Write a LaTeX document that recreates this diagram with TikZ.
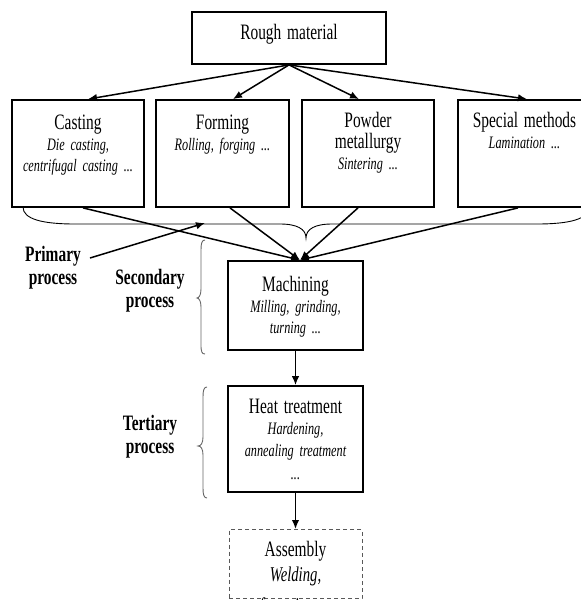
\documentclass[tikz,border=0pt]{standalone}
\usepackage{fontspec}
\setmainfont{Liberation Serif}[FakeStretch=0.7]
\usetikzlibrary{arrows.meta}
\newcommand{\ttl}{\fontsize{22}{21}\selectfont\upshape}
\begin{document}
\begin{tikzpicture}[x=1pt,y=-1pt,
  box/.style={draw, line width=1.8pt, inner sep=0pt},
  dbox/.style={draw=black!65, dashed, dash pattern=on 4pt off 3pt, line width=1pt, inner sep=0pt},
  txt/.style={text width=160pt, align=center, inner sep=0pt, anchor=base,
              font=\fontsize{17.5}{21}\selectfont\itshape},
  lbl/.style={text width=120pt, align=center, inner sep=0pt, anchor=base,
              font=\fontsize{22}{23.5}\selectfont\bfseries},
  arr/.style={-{Latex[length=9pt,width=7.5pt]}, line width=1.5pt},
  brc/.style={draw=black!60, line width=0.9pt}
]
\useasboundingbox (0,0) rectangle (581,600);
\clip (0,0) rectangle (581,600);

% boxes
\node[box, minimum width=194pt, minimum height=52pt] (rough) at (289,38) {};
\node[box, minimum width=132pt, minimum height=107pt] (cast) at (78,153.5) {};
\node[box, minimum width=133pt, minimum height=107pt] (form) at (222.5,153.5) {};
\node[box, minimum width=132pt, minimum height=107pt] (powd) at (368,153.5) {};
\node[box, minimum width=133pt, minimum height=107pt] (spec) at (524.5,153.5) {};
\node[box, minimum width=135pt, minimum height=89pt] (mach) at (295.5,305.5) {};
\node[box, minimum width=135pt, minimum height=106pt] (heat) at (295.5,439) {};
\node[dbox, minimum width=133pt, minimum height=69pt] (asm) at (295.5,564) {};

% box texts
\node[txt] (troughs) at (289,39) {\ttl Rough material};
\node[txt] (tcast) at (78,129) {{\ttl Casting}\\Die casting,\\centrifugal casting ...};
\node[txt] (tform) at (222.5,129) {{\ttl Forming}\\Rolling, forging ...};
\node[txt] (tpowd) at (368,127) {{\ttl Powder}\\{\ttl metallurgy}\\Sintering ...};
\node[txt] (tspec) at (524.5,127) {{\ttl Special methods}\\Lamination ...};
\node[txt] (tmach) at (295.5,291) {{\ttl Machining}\\Milling, grinding,\\turning ...};
\node[txt, font=\fontsize{17.5}{21.5}\selectfont\itshape] (theat) at (295.5,413)
  {{\ttl Heat treatment}\\Hardening,\\annealing treatment\\[1.5pt]...};
\node[txt, font=\fontsize{21}{25}\selectfont\itshape] (tasm) at (295.5,556)
  {{\ttl Assembly}\\Welding,\\[6pt]fastening ...};

% process labels
\node[lbl] (prim) at (53,261) {Primary\\process};
\node[lbl] (seco) at (150,284) {Secondary\\process};
\node[lbl] (tert) at (150,430) {Tertiary\\process};

% arrows from the rough material
\draw[arr] (rough.south) -- ([xshift=10pt]cast.north);
\draw[arr] (rough.south) -- ([xshift=10.5pt]form.north);
\draw[arr] (rough.south) -- ([xshift=-9pt]powd.north);
\draw[arr] (rough.south) -- ([xshift=2.5pt]spec.north);

% arrows into machining
\draw[arr] ([xshift=5pt]cast.south) -- ([xshift=4.5pt]mach.north);
\draw[arr] ([xshift=7.5pt]form.south) -- ([xshift=4.5pt]mach.north);
\draw[arr] ([xshift=-10pt]powd.south) -- ([xshift=4.5pt]mach.north);
\draw[arr] ([xshift=-6.5pt]spec.south) -- ([xshift=4.5pt]mach.north);

% process chain
\draw[arr] (mach.south) -- (heat.north);
\draw[arr] (heat.south) -- (asm.north);

% primary process pointer
\coordinate (pa) at (90,258);
\coordinate (pb) at (205,223);
\draw[arr] (pa) -- (pb);

% brace under the primary processes
\draw[line width=0.9pt] (23,207) .. controls (23,219) and (42,224) .. (75,224)
  -- (280,224) .. controls (297,224) and (306,229) .. (306,238)
  .. controls (306,229) and (315,224) .. (332,224)
  -- (537,224) .. controls (570,224) and (589,219) .. (589,207);

% brace of the secondary process
\draw[brc] (205,240) .. controls (202,240) and (201,243) .. (201,250)
  -- (201,289) .. controls (201,295) and (199,298) .. (197,298)
  .. controls (199,298) and (201,301) .. (201,307)
  -- (201,345) .. controls (201,352) and (202,354) .. (205,354);

% brace of the tertiary process
\draw[brc] (207,387) .. controls (204,387) and (203,390) .. (203,397)
  -- (203,437) .. controls (203,443) and (201,446) .. (198,446)
  .. controls (201,446) and (203,449) .. (203,455)
  -- (203,488) .. controls (203,495) and (204,498) .. (207,498);
\end{tikzpicture}
\end{document}
